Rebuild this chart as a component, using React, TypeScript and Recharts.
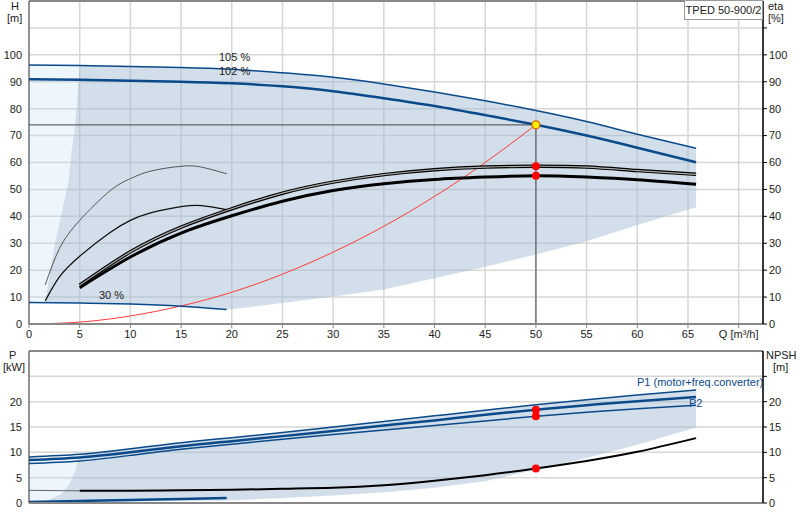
import React from 'react';
import { ComposedChart, Line, Area, Scatter, XAxis, YAxis, CartesianGrid, ReferenceLine } from 'recharts';

// axis ticks
const qTicks = [0, 5, 10, 15, 20, 25, 30, 35, 40, 45, 50, 55, 60, 65, 70];
const hTicks = [0, 10, 20, 30, 40, 50, 60, 70, 80, 90, 100, 110];
const pTicks = [0, 5, 10, 15, 20, 25];

// H curves (m)
const qCurve = [0, 5, 10, 15, 20, 25, 30, 35, 40, 45, 50, 55, 60, 65.8];
const hMax = [96.2, 96.0, 95.7, 95.3, 94.6, 93.3, 91.7, 89.2, 86.2, 82.9, 79.3, 75.2, 70.5, 65.3];
const hNom = [90.9, 90.7, 90.4, 90.0, 89.4, 88.3, 86.5, 83.9, 81.0, 77.6, 74.0, 70.0, 65.5, 60.1];
const qMin = [0, 5, 10, 15, 19.5];
const hMin = [8.0, 7.8, 7.4, 6.6, 5.4];

// system curve
const qSys = [0, 5, 10, 15, 20, 25, 30, 35, 40, 45, 50];
const hSys = [0, 0.7, 3.0, 6.7, 11.8, 18.5, 26.7, 36.3, 47.4, 60.0, 74.0];

// eta curves (%)
const qEta = [5, 10, 15, 20, 25, 30, 35, 40, 45, 50, 55, 60, 65.8];
const etaTotal = [14.4, 26.8, 36.0, 42.8, 48.6, 52.7, 55.5, 57.3, 58.3, 58.6, 58.3, 57.0, 55.6];
const etaPump = [13.5, 24.9, 33.8, 40.2, 45.6, 49.6, 52.1, 53.7, 54.6, 55.1, 54.6, 53.6, 51.9];
const qEtaLow = [1.6, 3, 5, 8, 10, 12, 15, 17, 19.5];
const etaLowA = [14.5, 28.0, 38.5, 49.5, 54.0, 56.8, 58.6, 58.3, 55.8];
const etaLowB = [8.6, 17.5, 25.2, 34.0, 38.5, 41.3, 43.6, 44.0, 42.5];

// operating range (top)
const qRange = [1.6, 2.56, 3.2, 3.9, 4.2, 4.5, 5, 10, 15, 20, 25, 30, 35, 40, 45, 50, 55, 60, 65.8];
const hRangeLo = [7.9, 7.85, 7.8, 7.8, 7.8, 7.8, 7.8, 7.4, 6.6, 5.5, 7.8, 10.2, 12.8, 17.0, 21.3, 25.8, 30.7, 36.8, 43.4];
const hRangeHi = [8.4, 30, 41, 53, 64, 72, 96.0, 95.7, 95.3, 94.6, 93.3, 91.7, 89.2, 86.2, 82.9, 79.3, 75.2, 70.5, 65.3];
const qLight = [0, 1.6, 2.56, 3.2, 3.9, 4.2, 4.5, 5];
const hLightLo = [8.0, 8.4, 30, 41, 53, 64, 72, 96.0];
const hLightHi = [96.2, 96.1, 96.1, 96.1, 96.0, 96.0, 96.0, 96.0];

// duty point
const qDuty = [0, 50, 50];
const hDuty = [74.0, 74.0, 0];
const dutyPoint = [{ q: 50, v: 74.0 }];
const etaPoints = [{ q: 50, v: 58.6 }, { q: 50, v: 55.1 }];

// power (kW) and NPSH (m)
const pUpper = [9.1, 9.6, 10.7, 11.9, 12.9, 13.9, 15.0, 16.1, 17.2, 18.3, 19.4, 20.4, 21.3, 22.3];
const pMid = [8.5, 9.0, 10.0, 11.2, 12.2, 13.2, 14.2, 15.3, 16.3, 17.4, 18.4, 19.3, 20.1, 20.9];
const pLower = [7.8, 8.3, 9.4, 10.6, 11.6, 12.6, 13.5, 14.4, 15.3, 16.2, 17.1, 17.9, 18.6, 19.3];
const pMinSpeed = [0.2, 0.4, 0.6, 0.8, 1.0];
const qNpsh = [5, 10, 15, 20, 25, 30, 35, 40, 45, 50, 55, 60, 65.8];
const npsh = [2.4, 2.4, 2.5, 2.6, 2.8, 3.0, 3.5, 4.4, 5.5, 6.8, 8.3, 10.1, 12.8];
const qNpshStub = [0, 5];
const npshStub = [2.5, 2.4];
const qPRange = [1.6, 3.2, 4.0, 4.5, 5, 10, 15, 19.5, 25, 30, 35, 40, 45, 50, 55, 60, 65.8];
const pRangeLo = [0.1, 0.2, 0.2, 0.2, 0.2, 0.3, 0.4, 0.5, 1.0, 1.5, 2.1, 3.0, 4.3, 6.6, 8.9, 11.5, 14.9];
const pRangeHi = [0.3, 1.8, 3.8, 6.0, 9.6, 10.7, 11.9, 12.9, 13.9, 15.0, 16.1, 17.2, 18.3, 19.4, 20.4, 21.3, 22.3];
const qPLight = [0, 1.6, 3.2, 4.0, 4.5, 5];
const pLightLo = [0, 0.3, 1.8, 3.8, 6.0, 9.6];
const pLightHi = [9.1, 9.2, 9.4, 9.5, 9.55, 9.6];
const powerPoints = [{ q: 50, v: 18.4 }, { q: 50, v: 17.1 }];
const npshPoint = [{ q: 50, v: 6.8 }];

const pts = (xs: number[], ys: number[]) => xs.map((q, i) => ({ q, v: ys[i] }));
const band = (xs: number[], lo: number[], hi: number[]) => xs.map((q, i) => ({ q, r: [lo[i], hi[i]] }));

const BLUE = '#0b4a8a';
const FONT = '"Liberation Sans", Arial, sans-serif';
const tickStyle = { fontSize: 11, fill: '#222' };

const dot = (fill: string, stroke = 'none', r = 4) => (p: any) =>
  <circle cx={p.cx} cy={p.cy} r={r} fill={fill} stroke={stroke} strokeWidth={1.2} />;

const label = (text: string, x: number, y: number, extra: any = {}) => (
  <div style={{ position: 'absolute', left: x, top: y, fontSize: 11, color: '#222', whiteSpace: 'nowrap', lineHeight: '12px', ...extra }}>
    {text}
  </div>
);

const line = (data: any[], stroke: string, width: number, extra: any = {}) => (
  <Line data={data} dataKey="v" type="natural" stroke={stroke} strokeWidth={width} dot={false}
    activeDot={false} isAnimationActive={false} {...extra} />
);

export default function App() {
  return (
    <div style={{ position: 'absolute', left: 0, top: 0, width: 800, height: 520, background: '#fff', fontFamily: FONT }}>
      <div style={{ position: 'absolute', left: 0, top: 0 }}>
        <ComposedChart width={800} height={345} margin={{ top: 1, right: 0, left: 0, bottom: 0 }}>
          <CartesianGrid stroke="#d6d6d6" strokeWidth={1.5} />
          <XAxis dataKey="q" type="number" domain={[0, 72.4]} ticks={qTicks} allowDataOverflow height={21}
            tick={tickStyle} tickSize={4} tickMargin={2} axisLine={{ stroke: '#888', strokeWidth: 2 }}
            tickLine={{ stroke: '#888' }} tickFormatter={(v) => (v === 70 ? 'Q [m³/h]' : String(v))} />
          <YAxis type="number" domain={[0, 120]} ticks={hTicks} width={29} tick={tickStyle} tickSize={0}
            tickMargin={7} tickLine={false} axisLine={{ stroke: '#444' }}
            tickFormatter={(v) => (v > 100 ? '' : String(v))} />
          <YAxis yAxisId="r" orientation="right" type="number" domain={[0, 120]} ticks={hTicks} width={37}
            tick={tickStyle} tickSize={4} tickMargin={2} tickLine={{ stroke: '#000' }}
            axisLine={{ stroke: '#000', strokeWidth: 1.5 }} tickFormatter={(v) => (v > 100 ? '' : String(v))} />
          <ReferenceLine y={120} stroke="#888" strokeWidth={2} />
          <Area data={band(qLight, hLightLo, hLightHi)} dataKey="r" type="linear" stroke="none"
            fill="#c8e1fa" fillOpacity={0.3} isAnimationActive={false} />
          <Area data={band(qRange, hRangeLo, hRangeHi)} dataKey="r" type="linear" stroke="none"
            fill="#a0b9d2" fillOpacity={0.48} isAnimationActive={false} />
          {line(pts(qDuty, hDuty), '#666', 1.3, { type: 'linear' })}
          {line(pts(qSys, hSys), '#ff3b3b', 1)}
          {line(pts(qMin, hMin), BLUE, 1.5)}
          {line(pts(qEtaLow, etaLowA), '#555', 1, { yAxisId: 'r' })}
          {line(pts(qEtaLow, etaLowB), '#111', 1.3, { yAxisId: 'r' })}
          {line(pts(qEta, etaTotal), '#000', 3.5, { yAxisId: 'r' })}
          {line(pts(qEta, etaTotal), '#aaa', 1.2, { yAxisId: 'r' })}
          {line(pts(qEta, etaPump), '#000', 3, { yAxisId: 'r' })}
          {line(pts(qCurve, hMax), BLUE, 1.5)}
          {line(pts(qCurve, hNom), BLUE, 2.5)}
          <Scatter yAxisId="r" data={etaPoints} dataKey="v" shape={dot('#ff0000')} isAnimationActive={false} />
          <Scatter data={dutyPoint} dataKey="v" shape={dot('#ffee00', '#e06000', 4)} isAnimationActive={false} />
        </ComposedChart>
      </div>
      <div style={{ position: 'absolute', left: 0, top: 345 }}>
        <ComposedChart width={800} height={175} margin={{ top: 6, right: 0, left: 0, bottom: 0 }}>
          <CartesianGrid stroke="#d6d6d6" strokeWidth={1.5} />
          <XAxis dataKey="q" type="number" domain={[0, 72.4]} ticks={qTicks} allowDataOverflow height={17}
            tick={false} tickLine={false} axisLine={{ stroke: '#888', strokeWidth: 2 }} />
          <YAxis type="number" domain={[0, 30]} ticks={pTicks} width={29} tick={tickStyle} tickSize={0}
            tickMargin={7} tickLine={false} axisLine={{ stroke: '#444' }}
            tickFormatter={(v) => (v > 20 ? '' : String(v))} />
          <YAxis yAxisId="r" orientation="right" type="number" domain={[0, 30]} ticks={pTicks} width={37}
            tick={tickStyle} tickSize={4} tickMargin={2} tickLine={{ stroke: '#000' }}
            axisLine={{ stroke: '#000', strokeWidth: 1.5 }} tickFormatter={(v) => (v > 20 ? '' : String(v))} />
          <ReferenceLine y={30} stroke="#888" strokeWidth={2} />
          <Area data={band(qPLight, pLightLo, pLightHi)} dataKey="r" type="linear" stroke="none"
            fill="#c8e1fa" fillOpacity={0.3} isAnimationActive={false} />
          <Area data={band(qPRange, pRangeLo, pRangeHi)} dataKey="r" type="linear" stroke="none"
            fill="#a0b9d2" fillOpacity={0.48} isAnimationActive={false} />
          {line(pts(qMin, pMinSpeed), BLUE, 2.5)}
          {line(pts(qNpshStub, npshStub), '#666', 1, { yAxisId: 'r', type: 'linear' })}
          {line(pts(qNpsh, npsh), '#000', 2, { yAxisId: 'r' })}
          {line(pts(qCurve, pUpper), BLUE, 1.5)}
          {line(pts(qCurve, pMid), BLUE, 2.5)}
          {line(pts(qCurve, pLower), BLUE, 1.5)}
          <Scatter data={powerPoints} dataKey="v" shape={dot('#ff0000')} isAnimationActive={false} />
          <Scatter yAxisId="r" data={npshPoint} dataKey="v" shape={dot('#ff0000')} isAnimationActive={false} />
        </ComposedChart>
      </div>

      {label('H', 11, 0)}
      {label('[m]', 7, 12)}
      {label('eta', 768, 0)}
      {label('[%]', 768, 12)}
      <div style={{ position: 'absolute', left: 684, top: 0, width: 77, height: 18, border: '1px solid #999',
        background: '#fff', fontSize: 11, color: '#222', lineHeight: '18px', textAlign: 'center' }}>
        TPED 50-900/2
      </div>
      {label('105 %', 219, 51)}
      {label('102 %', 219, 65)}
      {label('30 %', 99, 289)}
      {label('P', 9, 349)}
      {label('[kW]', 3, 361)}
      {label('NPSH', 766, 349)}
      {label('[m]', 773, 361)}
      {label('P1 (motor+freq.converter)', 637, 376, { color: BLUE })}
      {label('P2', 689, 397, { color: BLUE })}
    </div>
  );
}
